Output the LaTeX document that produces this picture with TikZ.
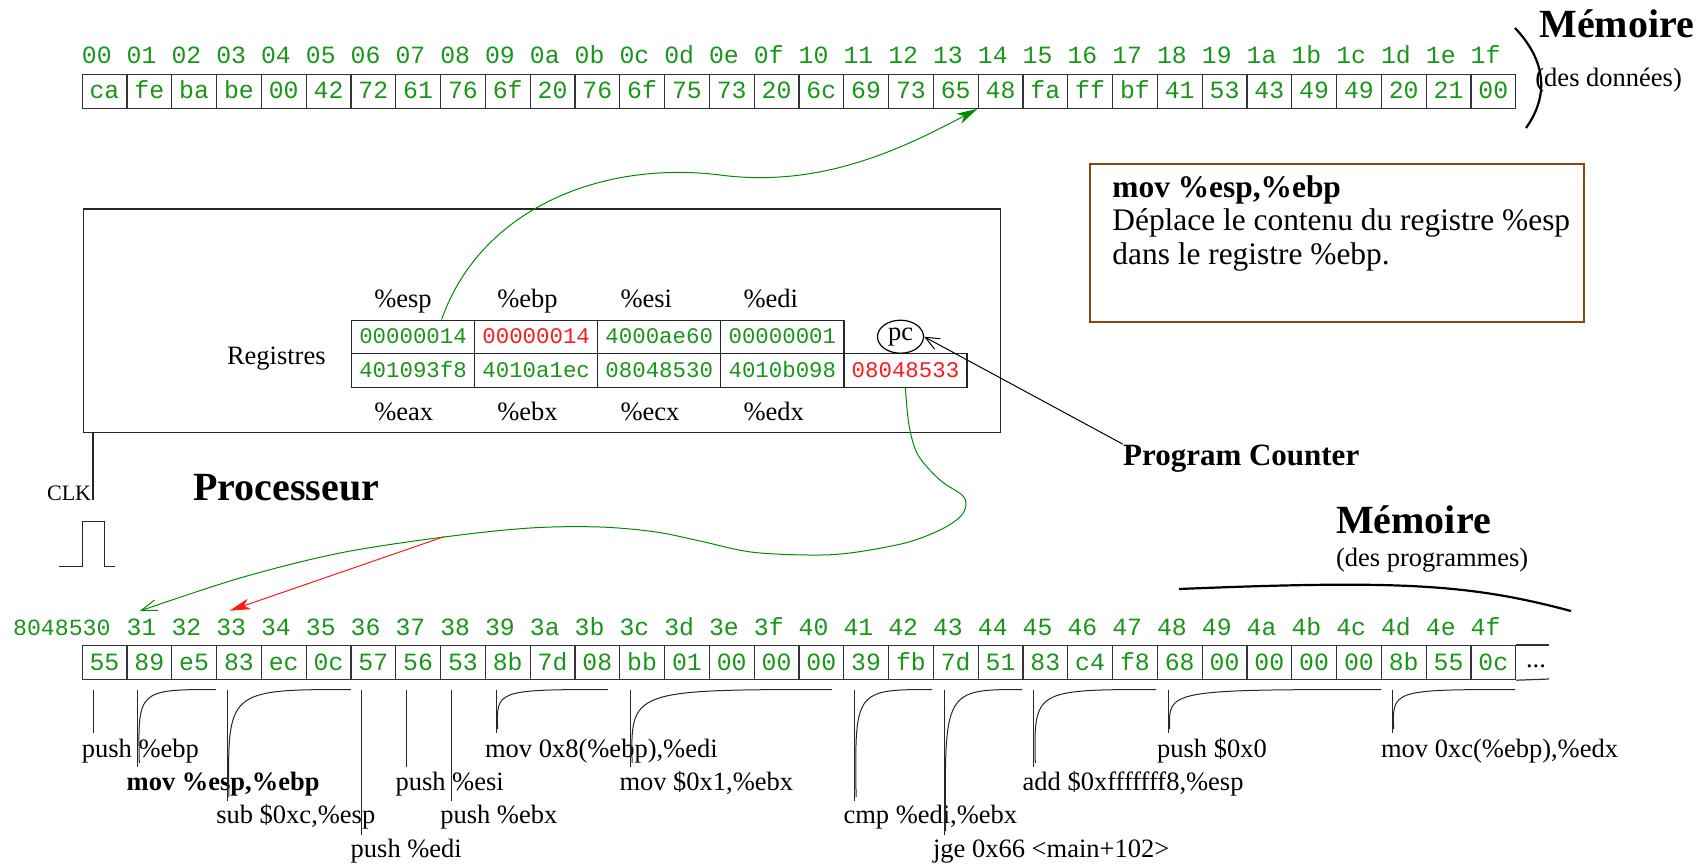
\documentclass[tikz,border=0pt]{standalone}
\usepackage{fontspec}
\setmainfont{Liberation Serif}
\setmonofont{Liberation Mono}
\usetikzlibrary{arrows.meta,shapes.geometric,calc}
\definecolor{mgreen}{RGB}{25,150,25}
\definecolor{agreen}{RGB}{0,140,0}
\definecolor{mred}{RGB}{255,25,25}
\definecolor{mbrown}{RGB}{139,69,19}
\newcommand\fmem{\fontsize{12.4}{14}\selectfont\ttfamily}
\newcommand\freg{\fontsize{11.2}{13}\selectfont\ttfamily}
\newcommand\fann{\fontsize{13.25}{15}\selectfont}
\newcommand\fbig{\fontsize{20}{24}\selectfont\bfseries}
\newcommand\fdesc{\fontsize{15.7}{17}\selectfont}
\newcommand\fclk{\fontsize{11}{13}\selectfont}
\begin{document}
\begin{tikzpicture}[x=0.5pt,y=-0.5pt,
  memcell/.style={draw=black!80,line width=0.6pt,minimum width=22.4pt,minimum height=16.8pt,inner sep=0pt,text height=7.4pt,text depth=0pt,font=\fmem,text=mgreen,anchor=north west},
  memlab/.style={inner sep=0pt,font=\fmem,text=mgreen,anchor=base west},
  regcell/.style={draw=black!85,line width=0.6pt,minimum width=61.55pt,minimum height=16.85pt,inner sep=0pt,text height=6.7pt,text depth=0pt,font=\freg,text=mgreen,anchor=north west},
  reglab/.style={inner sep=0pt,font=\fann,anchor=base west},
  ann/.style={inner sep=0pt,font=\fann,anchor=base west},
  tick/.style={line width=0.5pt,black!85},
  fillarrow/.style={-{Stealth[length=10.5pt,width=5.5pt,inset=3pt]}},
  openarrow/.style={-{Straight Barb[length=7pt,width=6pt]}},
]
\useasboundingbox (0,0) rectangle (1704,864);

% ---------- data memory ----------
\foreach \v [count=\i from 0] in {ca,fe,ba,be,00,42,72,61,76,6f,20,76,6f,75,73,20,6c,69,73,65,48,fa,ff,bf,41,53,43,49,49,20,21,00}{
  \node[memcell] (t\i) at ({81.5+44.8*\i},74) {\v};
}
\foreach \v [count=\i from 0] in {00,01,02,03,04,05,06,07,08,09,0a,0b,0c,0d,0e,0f,10,11,12,13,14,15,16,17,18,19,1a,1b,1c,1d,1e,1f}{
  \node[memlab] (tl\i) at ({81.5+44.8*\i},63.5) {\v};
}
\draw[line width=1.1pt] (1515,28) .. controls (1550,65) and (1546,100) .. (1526,128);
\node[inner sep=0pt,font=\fbig,anchor=base west] (memd) at (1539,37) {Mémoire};
\node[inner sep=0pt,font=\fann,anchor=base west] (memdsub) at (1535,86.5) {(des données)};

% ---------- processor ----------
\node[draw=black!85,line width=0.7pt,minimum width=458.65pt,minimum height=111.7pt,anchor=north west,inner sep=0pt] (proc) at (82.7,208.3) {};

\foreach \v/\c [count=\j from 0] in {00000014/mgreen,00000014/mred,4000ae60/mgreen,00000001/mgreen}{
  \node[regcell,text=\c] (r\j) at ({350.9+123.1*\j},319.5) {\v};
}
\foreach \v/\c [count=\j from 0] in {401093f8/mgreen,4010a1ec/mgreen,08048530/mgreen,4010b098/mgreen,08048533/mred}{
  \pgfmathtruncatemacro\k{\j+4}
  \node[regcell,text=\c] (r\k) at ({350.9+123.1*\j},353.2) {\v};
}
\foreach \v [count=\j from 0] in {esp,ebp,esi,edi}{
  \node[reglab] (lt\j) at ({373.9+123.1*\j},307) {\%\v};
}
\foreach \v [count=\j from 0] in {eax,ebx,ecx,edx}{
  \node[reglab] (lb\j) at ({373.9+123.1*\j},420) {\%\v};
}
\node[reglab] (regs) at (226.6,364) {Registres};
\node[ellipse,draw,line width=0.6pt,minimum width=23pt,minimum height=16.5pt,inner sep=0pt,font=\fann] (pc) at (900.5,336.7) {\raisebox{1pt}{pc}};

\node[inner sep=0pt,font=\fbig,anchor=base west] (procl) at (193,500) {Processeur};
\node[inner sep=0pt,font=\fclk,anchor=base east] (clk) at (91.5,500) {CLK};
\draw[line width=0.6pt,black!85] (93,431.7) -- (93,500);
\draw[line width=0.6pt,black!85] (59.3,566.7) -- (82.3,566.7) -- (82.3,521.7) -- (104.1,521.7) -- (104.1,566.7) -- (114.8,566.7);

% ---------- description box ----------
\node[draw=mbrown,line width=1pt,minimum width=246.8pt,minimum height=78.7pt,anchor=north west,inner sep=0pt] (desc) at (1089.4,163.3) {};
\node[inner sep=0pt,font=\fdesc\bfseries,anchor=base west] (d1) at (1112,197) {mov \%esp,\%ebp};
\node[inner sep=0pt,font=\fdesc,anchor=base west] (d2) at (1112,230.5) {Déplace le contenu du registre \%esp};
\node[inner sep=0pt,font=\fdesc,anchor=base west] (d3) at (1112,264) {dans le registre \%ebp.};

\node[inner sep=0pt,font=\fontsize{15.5}{17}\selectfont\bfseries,anchor=base west] (pctext) at (1122.7,465) {Program Counter};
\draw[line width=0.5pt,openarrow] (pctext.north west) -- (pc.east);

% ---------- program memory ----------
\foreach \v [count=\i from 0] in {55,89,e5,83,ec,0c,57,56,53,8b,7d,08,bb,01,00,00,00,39,fb,7d,51,83,c4,f8,68,00,00,00,00,8b,55,0c}{
  \node[memcell,minimum height=17pt] (b\i) at ({81.5+44.8*\i},645) {\v};
}
\draw[line width=0.6pt,black!80] (b31.north east) -- (1549,645);
\draw[line width=0.6pt,black!80] (b31.south east) -- (1549,679);
\node[inner sep=0pt,font=\fann,anchor=base] (dots) at (1536,667) {...};
\node[inner sep=0pt,font=\fontsize{11.6}{14}\selectfont\ttfamily,text=mgreen,anchor=base east] (bl0) at (111,635) {8048530};
\foreach \v [count=\i from 1] in {31,32,33,34,35,36,37,38,39,3a,3b,3c,3d,3e,3f,40,41,42,43,44,45,46,47,48,49,4a,4b,4c,4d,4e,4f}{
  \node[memlab] (bl\i) at ({81.5+44.8*\i},635) {\v};
}
\node[inner sep=0pt,font=\fbig,anchor=base west] (memp) at (1335.7,533.3) {Mémoire};
\node[inner sep=0pt,font=\fann,anchor=base west] (mempsub) at (1335.7,566.7) {(des programmes)};
\draw[line width=1.1pt] (1179,589) .. controls (1400,580) and (1470,584) .. (1571,611);

% ---------- instruction annotations ----------
\foreach \ss/\rr/\tx in {0/1/{push \%ebp},1/2/{\textbf{mov \%esp,\%ebp}},3/3/{sub \$0xc,\%esp},6/4/{push \%edi},7/2/{push \%esi},8/3/{push \%ebx},9/1/{mov 0x8(\%ebp),\%edi},12/2/{mov \$0x1,\%ebx},17/3/{cmp \%edi,\%ebx},19/4/{jge 0x66 <main+102>},21/2/{add \$0xfffffff8,\%esp},24/1/{push \$0x0},29/1/{mov 0xc(\%ebp),\%edx}}{
  \pgfmathsetmacro\xl{81.5+44.8*\ss}
  \pgfmathsetmacro\xv{\xl+11.5}
  \pgfmathsetmacro\yb{757+33.33*(\rr-1)}
  \pgfmathsetmacro\yl{733+34*(\rr-1)}
  \node[ann] (i\ss) at (\xl,\yb) {\tx};
  \draw[tick] (\xv,690) -- (\xv,\yl);
}
\foreach \ss/\xr/\rr in {1/216/2,3/350.9/3,9/608/1,12/832/2,17/932/3,19/1022/4,21/1156/2,24/1381/1,29/1515/1}{
  \pgfmathsetmacro\xv{81.5+44.8*\ss+11.5}
  \pgfmathsetmacro\yl{733+34*(\rr-1)}
  \draw[tick] (\xr,689.5) .. controls (\xv,689.5) and (\xv,690.5) .. (\xv+1.5,\yl-4);
}

% ---------- connectors ----------
\coordinate (espTop) at ($(r0.north west)!0.73!(r0.north east)$);
\draw[agreen,line width=0.5pt,fillarrow] (espTop) .. controls (480,210) and (600,160) .. (720,175) .. controls (820,188) and (900,150) .. (t20.south west);

\coordinate (a31) at (139.7,611);
\coordinate (a33) at (229.6,610.7);
\coordinate (redstart) at (444,536.7);
\draw[agreen,line width=0.5pt,-{Straight Barb[length=8pt,width=5.5pt]}] plot[smooth,tension=0.55] coordinates {(r8.south) (909,425) (918,455) (940,480) (962,495) (966,505) (960,517) (940,530) (905,543) (850,553) (809,555) (751,552) (700,541) (656,532) (600,527) (530,528) (444,537) (340,553) (240,578) (a31)};
\draw[mred,line width=0.5pt,fillarrow] (redstart) -- (a33);
\end{tikzpicture}
\end{document}
